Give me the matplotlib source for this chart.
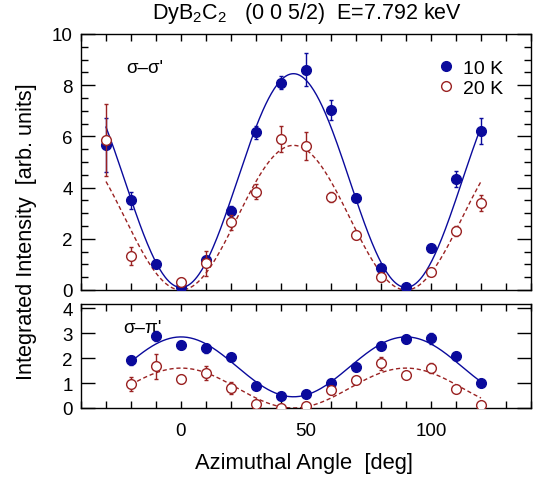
import numpy as np
import matplotlib
matplotlib.use("Agg")
import matplotlib.pyplot as plt
from matplotlib.ticker import MultipleLocator, FixedLocator
from matplotlib.lines import Line2D

plt.rcParams['font.family'] = ['Liberation Sans', 'DejaVu Sans']
plt.rcParams['mathtext.fontset'] = 'custom'
plt.rcParams['mathtext.rm'] = 'Liberation Sans'

# ---------------- data ----------------
# sigma-sigma' channel
ang_ss_10K = [-30, -20, -10, 0, 10, 20, 30, 40, 50, 60, 70, 80, 90, 100, 110, 120]
ss_10K     = [5.66, 3.50, 1.02, 0.10, 1.18, 3.07, 6.16, 8.09, 8.60, 7.04, 3.61, 0.86, 0.10, 1.63, 4.34, 6.20]
ss_10K_err = [1.05, 0.32, 0.12, 0.10, 0.15, 0.20, 0.25, 0.25, 0.65, 0.38, 0.12, 0.10, 0.10, 0.10, 0.32, 0.50]

ang_ss_20K = [-30, -20, 0, 10, 20, 30, 40, 50, 60, 70, 80, 100, 110, 120]
ss_20K     = [5.85, 1.32, 0.33, 1.04, 2.64, 3.84, 5.90, 5.64, 3.62, 2.15, 0.50, 0.69, 2.29, 3.39]
ss_20K_err = [1.40, 0.35, 0.15, 0.50, 0.30, 0.30, 0.50, 0.55, 0.20, 0.15, 0.15, 0.10, 0.20, 0.32]

# sigma-pi' channel
ang_sp = [-20, -10, 0, 10, 20, 30, 40, 50, 60, 70, 80, 90, 100, 110, 120]
sp_10K     = [1.92, 2.87, 2.53, 2.39, 2.03, 0.89, 0.47, 0.58, 1.00, 1.65, 2.47, 2.76, 2.79, 2.07, 1.00]
sp_10K_err = [0.18, 0.20, 0.15, 0.18, 0.15, 0.08, 0.08, 0.08, 0.08, 0.10, 0.12, 0.15, 0.22, 0.12, 0.08]
sp_20K     = [0.96, 1.67, 1.16, 1.39, 0.80, 0.16, 0.00, 0.09, 0.72, 1.13, 1.79, 1.32, 1.59, 0.76, 0.11]
sp_20K_err = [0.29, 0.50, 0.15, 0.28, 0.25, 0.10, 0.05, 0.10, 0.15, 0.10, 0.25, 0.10, 0.20, 0.10, 0.10]

# fit parameters:  offset + amp * sin^2(2 phi)   /   offset + amp * cos^2(2 phi)
fit_ss_10K = (0.10, 8.35)
fit_ss_20K = (0.00, 5.65)
fit_sp_10K = (0.45, 2.40)
fit_sp_20K = (0.00, 1.60)

blue = '#0a0a9c'
red = '#9a2222'

fig = plt.figure(figsize=(5.35, 4.81), dpi=100)
W, H = 535, 481
ax1 = fig.add_axes([81 / W, (H - 291) / H, 450 / W, 256 / H])
ax2 = fig.add_axes([81 / W, (H - 409) / H, 450 / W, 104 / H])

ms = 7
ekw = dict(elinewidth=1.0, capsize=1.6, capthick=1.0)

# top panel
phi1 = np.linspace(-30, 120, 400)
ax1.plot(phi1, fit_ss_10K[0] + fit_ss_10K[1] * np.sin(np.radians(2 * phi1)) ** 2,
         color=blue, lw=1.0, zorder=2)
ax1.plot(phi1, fit_ss_20K[0] + fit_ss_20K[1] * np.sin(np.radians(2 * phi1)) ** 2,
         color=red, lw=1.0, ls=(0, (3, 2)), zorder=2)
ax1.errorbar(ang_ss_10K, ss_10K, yerr=ss_10K_err, fmt='o', ms=ms, color=blue,
             mfc=blue, mec=blue, zorder=3, **ekw)
ax1.errorbar(ang_ss_20K, ss_20K, yerr=ss_20K_err, fmt='o', ms=ms, color=red,
             mfc='white', mec=red, mew=1.0, zorder=4, **ekw)

# bottom panel
phi2 = np.linspace(-20, 120, 400)
ax2.plot(phi2, fit_sp_10K[0] + fit_sp_10K[1] * np.cos(np.radians(2 * phi2)) ** 2,
         color=blue, lw=1.0, zorder=2)
ax2.plot(phi2, fit_sp_20K[0] + fit_sp_20K[1] * np.cos(np.radians(2 * phi2)) ** 2,
         color=red, lw=1.0, ls=(0, (3, 2)), zorder=2)
ax2.errorbar(ang_sp, sp_10K, yerr=sp_10K_err, fmt='o', ms=ms, color=blue,
             mfc=blue, mec=blue, zorder=3, **ekw)
ax2.errorbar(ang_sp, sp_20K, yerr=sp_20K_err, fmt='o', ms=ms, color=red,
             mfc='white', mec=red, mew=1.0, zorder=4, **ekw)

for ax in (ax1, ax2):
    ax.set_xlim(-40, 140)
    ax.xaxis.set_major_locator(FixedLocator([0, 50, 100]))
    ax.xaxis.set_minor_locator(MultipleLocator(10))
    ax.tick_params(which='both', direction='in', top=True, right=True, width=1.0,
                   labelsize=13.5, color='black')
    ax.tick_params(axis='x', which='both', length=5)
    for s in ax.spines.values():
        s.set_linewidth(1.0)

ax1.set_ylim(0, 10)
ax1.yaxis.set_major_locator(MultipleLocator(2))
ax1.yaxis.set_minor_locator(MultipleLocator(0.5))
ax1.tick_params(axis='y', which='major', length=10, pad=6)
ax1.tick_params(axis='y', which='minor', length=5)
ax1.tick_params(axis='x', labelbottom=False)

ax2.set_ylim(0, 4.17)
ax2.yaxis.set_major_locator(MultipleLocator(1))
ax2.tick_params(axis='y', which='major', length=10, pad=6)
ax2.tick_params(axis='x', which='major', pad=10)

ax1.text(0.10, 0.85, "σ–σ'", transform=ax1.transAxes, fontsize=13.5)
ax2.text(0.095, 0.73, "σ–π'", transform=ax2.transAxes, fontsize=13.5)

handles = [Line2D([], [], ls='none', marker='o', ms=ms, mfc=blue, mec=blue),
           Line2D([], [], ls='none', marker='o', ms=ms, mfc='white', mec=red, mew=1.0)]
ax1.legend(handles, ['10 K', '20 K'], loc='upper right', bbox_to_anchor=(0.965, 0.946),
           frameon=False, fontsize=14, handlelength=0.9, handletextpad=0.45,
           labelspacing=0.1, borderaxespad=0.2)

fig.text(307 / W, 1 - 13 / H, r"DyB$_2$C$_2$   (0 0 5/2)  E=7.792 keV",
         ha='center', va='center', fontsize=15.5)
fig.text(304 / W, 1 - 464 / H, "Azimuthal Angle  [deg]", ha='center', va='center',
         fontsize=15.8)
fig.text(27 / W, 1 - 232 / H, "Integrated Intensity  [arb. units]", ha='center',
         va='center', rotation=90, fontsize=15.6)

fig.savefig('out.png', dpi=100)
